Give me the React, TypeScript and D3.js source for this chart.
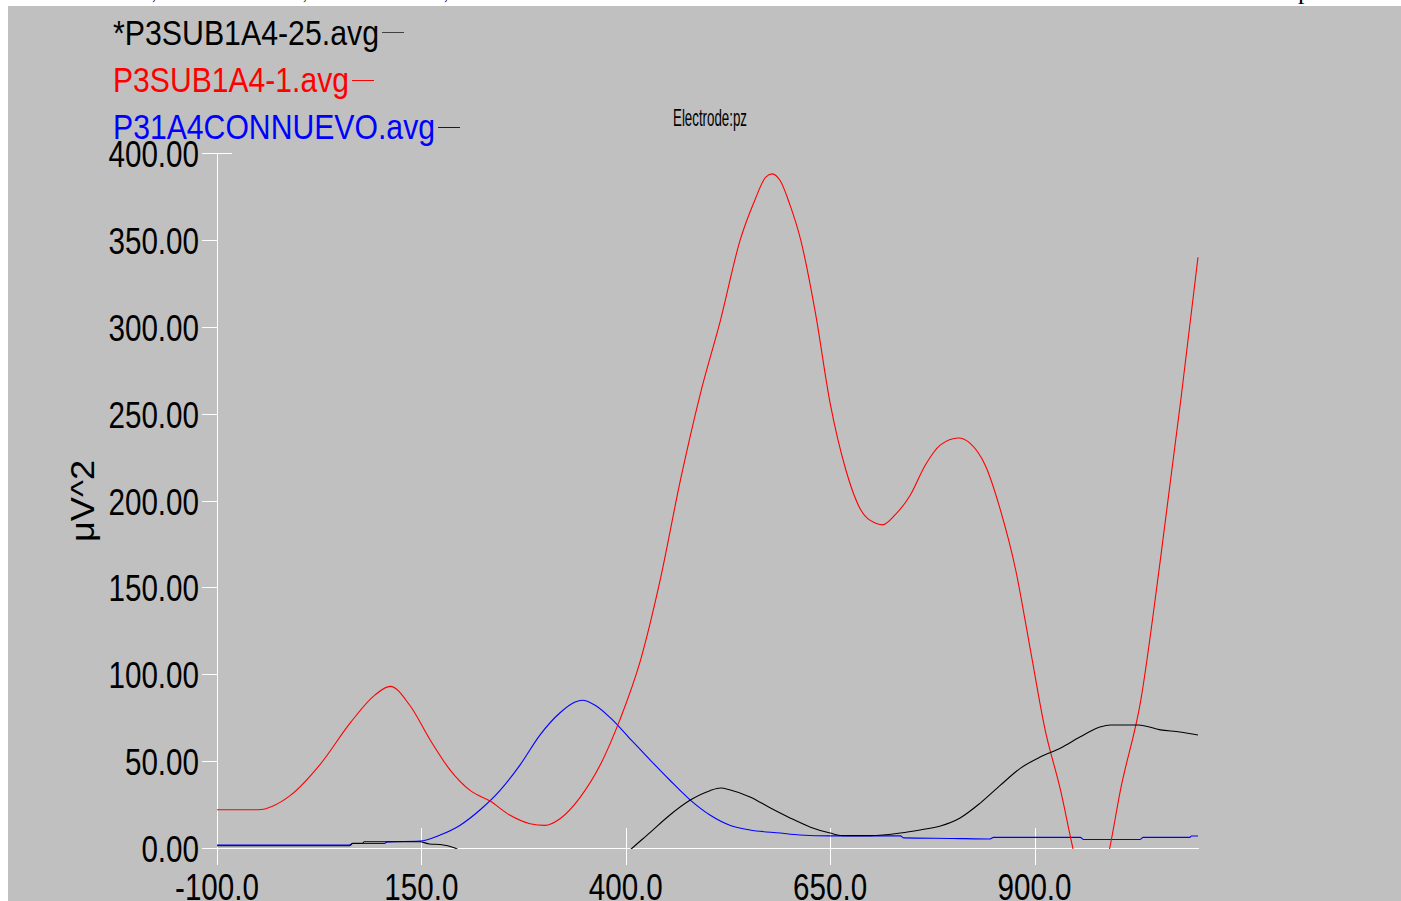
import React from "react";
import * as d3 from "d3";

const xTicks = [-100, 150, 400, 650, 900];
const yTicks = [0, 50, 100, 150, 200, 250, 300, 350, 400];

const legendNames = ["*P3SUB1A4-25.avg", "P3SUB1A4-1.avg", "P31A4CONNUEVO.avg"];
const legendColors = ["#000000", "#ff0000", "#0000ff"];
const chartTitle = "Electrode:pz";
const yLabel = "\u03bcV^2";

// [time (ms), value]
const blackSeries: [number, number][] = [
  [-100, 1.3], [62, 1.3], [66, 2.7], [78, 2.7], [80, 3.6], [148, 3.6], [160, 2.3], [173, 2], [191, 0],
  [250, -25], [300, -35], [350, -25], [408, 0], [430, 9], [454, 19], [479, 27.6], [503, 33],
  [516, 34.5], [528, 33.4], [552, 29.4], [577, 23], [601, 17.3], [626, 12], [650, 8.6], [665, 7.1],
  [699, 7.1], [736, 8.6], [760, 10.4], [785, 12.7], [809, 17.3], [834, 26], [858, 36], [883, 46],
  [907, 52.4], [932, 57.6], [956, 64], [980, 69.6], [993, 70.8], [1027, 70.8], [1054, 68],
  [1078, 66.8], [1100, 65],
];

const redSeries: [number, number][] = [
  [-100, 22], [-50, 22], [-11, 30], [26, 48], [63, 72], [93, 88], [112, 93], [136, 82], [161, 62],
  [185, 45], [210, 33], [234, 27], [258, 19], [283, 14], [301, 13], [320, 17], [344, 29], [369, 48],
  [393, 74], [418, 108], [442, 154], [467, 212], [491, 261], [516, 304], [540, 350], [558, 373],
  [571, 386], [579, 388], [589, 384], [601, 370], [614, 350], [632, 308], [650, 256], [669, 218],
  [687, 195], [705, 187], [714, 186], [730, 192], [748, 203], [766, 220], [785, 232], [807, 236],
  [821, 233], [840, 220], [858, 195], [877, 160], [895, 114], [913, 68], [932, 33], [946, 2],
  [968, -40], [992, 0], [1005, 33], [1030, 85], [1054, 166], [1079, 258], [1100, 340],
];

const blueSeries: [number, number][] = [
  [-100, 1.7], [62, 1.7], [66, 2.6], [105, 2.6], [108, 3.5], [148, 4], [173, 7.5], [197, 13],
  [222, 22], [246, 33], [271, 48], [295, 65], [320, 78], [338, 84], [347, 85], [363, 82],
  [381, 75], [405, 63], [430, 50.6], [454, 39], [479, 27.6], [503, 19], [528, 13], [552, 10.4],
  [589, 8.6], [613, 7.5], [650, 7], [736, 7], [740, 5.8], [799, 5.5], [845, 5.2], [850, 6.1],
  [956, 6.1], [960, 4.9], [1029, 4.9], [1033, 6.1], [1090, 6.1], [1092, 6.9], [1100, 6.9],
];

const seriesList = [
  { data: blueSeries, color: "#0000ff" },
  { data: redSeries, color: "#ff0000" },
  { data: blackSeries, color: "#000000" },
];

export default function App() {
  const W = 1401;
  const H = 901;
  const x = d3.scaleLinear().domain([-100, 1100]).range([217, 1198]);
  const y = d3.scaleLinear().domain([0, 400]).range([848, 153]);
  const line = d3
    .line<[number, number]>()
    .x((d) => x(d[0]))
    .y((d) => y(d[1]))
    .curve(d3.curveMonotoneX);

  const legendY = [45, 92, 139];
  const legendW = [266, 236, 322];
  const dashY = [32, 80, 127];

  return (
    <div style={{ position: "absolute", left: 0, top: 0, width: W, height: H, overflow: "hidden" }}>
      <svg width={W} height={H} style={{ display: "block" }}>
        <rect x={0} y={0} width={W} height={H} fill="#ffffff" />
        {/* fragments of text above the chart frame */}
        {[152, 303, 444].map((cx, i) => (
          <text key={i} x={cx} y={0} fontFamily="Liberation Serif" fontSize={16} fill="#000">,</text>
        ))}
        <text x={1298} y={-1} fontFamily="Liberation Serif" fontSize={26} fill="#000">p</text>
        <rect x={8} y={6} width={W - 8} height={H - 6} fill="#c0c0c0" />

        <defs>
          <clipPath id="plotClip">
            <rect x={217} y={100} width={990} height={749} />
          </clipPath>
        </defs>

        {/* axes */}
        <g stroke="#ffffff" strokeWidth={1} shapeRendering="crispEdges">
          <line x1={217.5} x2={217.5} y1={153} y2={865} />
          <line x1={202} x2={1199} y1={848.5} y2={848.5} />
          {yTicks.map((t) => (
            <line key={t} x1={202} x2={t === 400 ? 232 : 217} y1={Math.round(y(t)) + 0.5} y2={Math.round(y(t)) + 0.5} />
          ))}
          {xTicks.map((t) => (
            <line key={t} x1={Math.round(x(t)) + 0.5} x2={Math.round(x(t)) + 0.5} y1={828} y2={865} />
          ))}
        </g>

        {/* y tick labels */}
        {yTicks.map((t) => (
          <text
            key={t}
            transform={`translate(199,${y(t) + 14}) scale(0.8,1)`}
            textAnchor="end"
            fontFamily="Liberation Sans, Arial, sans-serif"
            fontSize={37}
            fill="#000"
          >
            {t.toFixed(2)}
          </text>
        ))}

        {/* x tick labels */}
        {xTicks.map((t) => (
          <text
            key={t}
            transform={`translate(${x(t)},900) scale(0.8,1)`}
            textAnchor="middle"
            fontFamily="Liberation Sans, Arial, sans-serif"
            fontSize={37}
            fill="#000"
          >
            {t.toFixed(1)}
          </text>
        ))}

        {/* y axis title */}
        <text
          transform="translate(94,501) rotate(-90)"
          textAnchor="middle"
          fontFamily="Liberation Sans, Arial, sans-serif"
          fontSize={33}
          textLength={82}
          lengthAdjust="spacingAndGlyphs"
          fill="#000"
        >
          {yLabel}
        </text>

        {/* chart title */}
        <text
          x={673}
          y={126}
          fontFamily="Liberation Sans, Arial, sans-serif"
          fontSize={24}
          textLength={74}
          lengthAdjust="spacingAndGlyphs"
          fill="#000"
        >
          {chartTitle}
        </text>

        {/* series */}
        <g clipPath="url(#plotClip)">
          {seriesList.map((s, i) => (
            <path key={i} d={line(s.data) || ""} fill="none" stroke={s.color} strokeWidth={1.1} />
          ))}
        </g>

        {/* legend */}
        {legendNames.map((name, i) => (
          <g key={name}>
            <text
              x={113}
              y={legendY[i]}
              fontFamily="Liberation Sans, Arial, sans-serif"
              fontSize={35}
              textLength={legendW[i]}
              lengthAdjust="spacingAndGlyphs"
              fill={legendColors[i]}
            >
              {name}
            </text>
            <line
              x1={113 + legendW[i] + 3}
              x2={113 + legendW[i] + 25}
              y1={dashY[i] + 0.5}
              y2={dashY[i] + 0.5}
              stroke={i === 0 ? "#404040" : legendColors[i]}
              strokeWidth={1}
              shapeRendering="crispEdges"
            />
          </g>
        ))}
      </svg>
    </div>
  );
}
